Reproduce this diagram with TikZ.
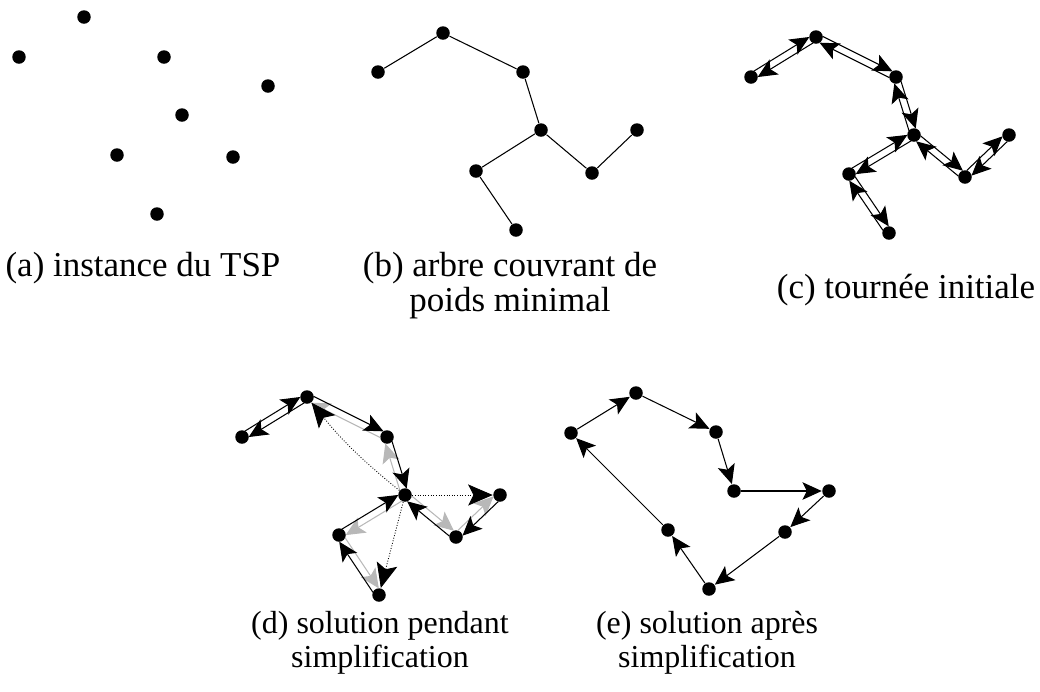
\documentclass[tikz,border=0pt]{standalone}
\usepackage{fontspec}
\setmainfont{Liberation Serif}
\usetikzlibrary{arrows.meta,calc}

\definecolor{faded}{gray}{0.72}
\newcommand\tourgap{2pt}
% one half of a doubled edge, on the left of its direction
\newcommand\tourleg[3][]{\draw[tour,#1] ($(#2)!\tourgap!90:(#3)$) -- ($(#3)!\tourgap!-90:(#2)$);}

\begin{document}
\begin{tikzpicture}[x=0.02cm,y=-0.02cm,line width=0.6pt,
    city/.style={circle,fill=black,inner sep=0pt,minimum size=0.27cm},
    tour/.style={-{Stealth[length=11pt,width=10pt,inset=2.5pt]},shorten <=3.2pt,shorten >=3.2pt},
    hop/.style={-{Stealth[length=11pt,width=10pt,inset=2.5pt]}},
    cut/.style={densely dotted,line width=0.5pt,-{Stealth[length=14pt,width=12pt,inset=3pt]}},
    caption/.style={align=center,inner sep=0pt}]
    \useasboundingbox (0,0) rectangle (1040,691);

    % (a) instance
    \node[city] (a1) at (84,17) {};  \node[city] (a2) at (19,57) {};
    \node[city] (a3) at (164,57) {}; \node[city] (a4) at (268,86) {};
    \node[city] (a5) at (182,115) {}; \node[city] (a6) at (117,155) {};
    \node[city] (a7) at (233,157) {}; \node[city] (a8) at (157,214) {};

    % (b) spanning tree
    \node[city] (b1) at (378,72) {};  \node[city] (b2) at (443,33) {};
    \node[city] (b3) at (523,72) {};  \node[city] (b4) at (541,130) {};
    \node[city] (b5) at (637,130) {}; \node[city] (b6) at (476,171) {};
    \node[city] (b7) at (592,173) {}; \node[city] (b8) at (516,230) {};
    \draw (b1) -- (b2) -- (b3) -- (b4) -- (b6) -- (b8)
          (b4) -- (b7) -- (b5);

    % (c) initial tour
    \node[city] (c1) at (751,77) {};  \node[city] (c2) at (816,37) {};
    \node[city] (c3) at (896,77) {};  \node[city] (c4) at (914,135) {};
    \node[city] (c5) at (1009,135) {}; \node[city] (c6) at (849,174) {};
    \node[city] (c7) at (965,177) {}; \node[city] (c8) at (889,233) {};
    \tourleg{c1}{c2} \tourleg{c2}{c3} \tourleg{c3}{c4} \tourleg{c4}{c6}
    \tourleg{c6}{c8} \tourleg{c8}{c6} \tourleg{c6}{c4} \tourleg{c4}{c7}
    \tourleg{c7}{c5} \tourleg{c5}{c7} \tourleg{c7}{c4} \tourleg{c4}{c3}
    \tourleg{c3}{c2} \tourleg{c2}{c1}

    % (d) during simplification
    \node[city] (d1) at (242,437) {}; \node[city] (d2) at (307,397) {};
    \node[city] (d3) at (387,437) {}; \node[city] (d4) at (405,495) {};
    \node[city] (d5) at (500,495) {}; \node[city] (d6) at (339,535) {};
    \node[city] (d7) at (456,537) {}; \node[city] (d8) at (379,595) {};
    \tourleg[faded]{d3}{d2} \tourleg[faded]{d4}{d3} \tourleg[faded]{d4}{d6}
    \tourleg[faded]{d6}{d8} \tourleg[faded]{d4}{d7} \tourleg[faded]{d7}{d5}
    \tourleg{d1}{d2} \tourleg{d2}{d1} \tourleg{d2}{d3} \tourleg{d3}{d4}
    \tourleg{d6}{d4} \tourleg{d8}{d6} \tourleg{d7}{d4} \tourleg{d5}{d7}
    \draw[cut] (d4) to[bend left=6] (d2);
    \draw[cut] (d4) -- (d8);
    \draw[cut] (d4) -- (d5);

    % (e) after simplification
    \node[city] (e1) at (571,433) {}; \node[city] (e2) at (636,393) {};
    \node[city] (e3) at (716,432) {}; \node[city] (e4) at (734,491) {};
    \node[city] (e5) at (829,491) {}; \node[city] (e6) at (668,530) {};
    \node[city] (e7) at (785,532) {}; \node[city] (e8) at (709,589) {};
    \draw[hop] (e1) -- (e2); \draw[hop] (e2) -- (e3);
    \draw[hop] (e3) -- (e4); \draw[hop] (e4) -- (e5);
    \draw[hop] (e5) -- (e7); \draw[hop] (e7) -- (e8);
    \draw[hop] (e8) -- (e6); \draw[hop] (e6) -- (e1);

    % captions
    \begin{scope}[font=\fontsize{19.9}{20}\selectfont]
    \node[caption] (capa) at (143,268) {(a) instance du TSP};
    \node[caption] (capb) at (510,286) {(b) arbre couvrant de\\poids minimal};
    \node[caption] (capc) at (906,290) {(c) tournée initiale};
    \end{scope}
    \begin{scope}[font=\fontsize{18.2}{19.4}\selectfont]
    \node[caption] (capd) at (380,643) {(d) solution pendant\\simplification};
    \node[caption] (cape) at (707,643) {(e) solution après\\simplification};
    \end{scope}
\end{tikzpicture}
\end{document}
